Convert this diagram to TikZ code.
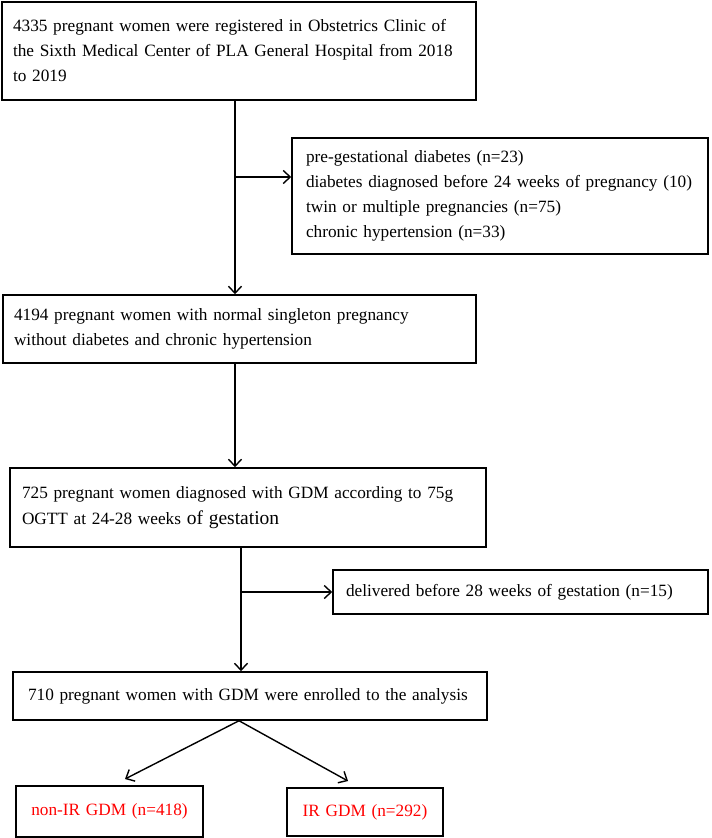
\documentclass[tikz,border=0pt]{standalone}
\usepackage{fontspec}
\setmainfont{Liberation Serif}
\usetikzlibrary{arrows.meta, positioning}

\begin{document}
\begin{tikzpicture}[x=1pt, y=1pt,
  box/.style={draw, line width=1.5pt, align=left, inner xsep=11pt, font=\fontsize{17.25}{25}\selectfont},
  redbox/.style={box, align=center, text=red},
  arr/.style={line width=1.4pt, -{Straight Barb[length=7pt, width=13pt, line width=1.4pt]}}]
 \useasboundingbox (0,0) rectangle (712,-838);
 \node [box, text width=452, minimum height=98] (reg) at (239,-51) {4335 pregnant women were registered in Obstetrics Clinic of\\the Sixth Medical Center of PLA General Hospital from 2018\\to 2019};
 \node [box, text width=388, inner xsep=14pt, minimum height=116] (excl) at (500,-196) {pre-gestational diabetes (n=23)\\diabetes diagnosed before 24 weeks of pregnancy (10)\\twin or multiple pregnancies (n=75)\\chronic hypertension (n=33)};
 \node [box, text width=451, minimum height=68] (normal) at (239.5,-329) {4194 pregnant women with normal singleton pregnancy\\without diabetes and chronic hypertension};
 \node [box, text width=452, inner xsep=12pt, minimum height=79, font=\fontsize{17.25}{26}\selectfont] (gdm) at (248,-507.5) {725 pregnant women diagnosed with GDM according to 75g\\OGTT at 24-28 weeks {\fontsize{19.5}{26}\selectfont of gestation}};
 \node [box, text width=349, inner xsep=13pt, minimum height=44] (deliv) at (520.5,-592) {delivered before 28 weeks of gestation (n=15)};
 \node [box, text width=444, inner xsep=15pt, minimum height=48] (enrol) at (250,-696) {710 pregnant women with GDM were enrolled to the analysis};
 \node [redbox, text width=165, minimum height=51] (nonir) at (109.5,-811.5) {non-IR GDM (n=418)};
 \node [redbox, text width=134, minimum height=48] (ir) at (365,-812) {IR GDM (n=292)};
 \coordinate (m1) at (235,-177);
 \coordinate (m2) at (241,-592);
 \coordinate (t1) at (125,-779);
 \coordinate (t2) at (348,-781);
 \draw [arr] (reg.south -| m1) -- (normal.north -| m1);
 \draw [arr] (m1) -- (excl.west |- m1);
 \draw [arr] (normal.south -| m1) -- (gdm.north -| m1);
 \draw [arr] (gdm.south -| m2) -- (enrol.north -| m2);
 \draw [arr] (m2) -- (deliv.west |- m2);
 \draw [arr] ([xshift=-11pt]enrol.south) -- (t1);
 \draw [arr] ([xshift=-11pt]enrol.south) -- (t2);
\end{tikzpicture}
\end{document}
